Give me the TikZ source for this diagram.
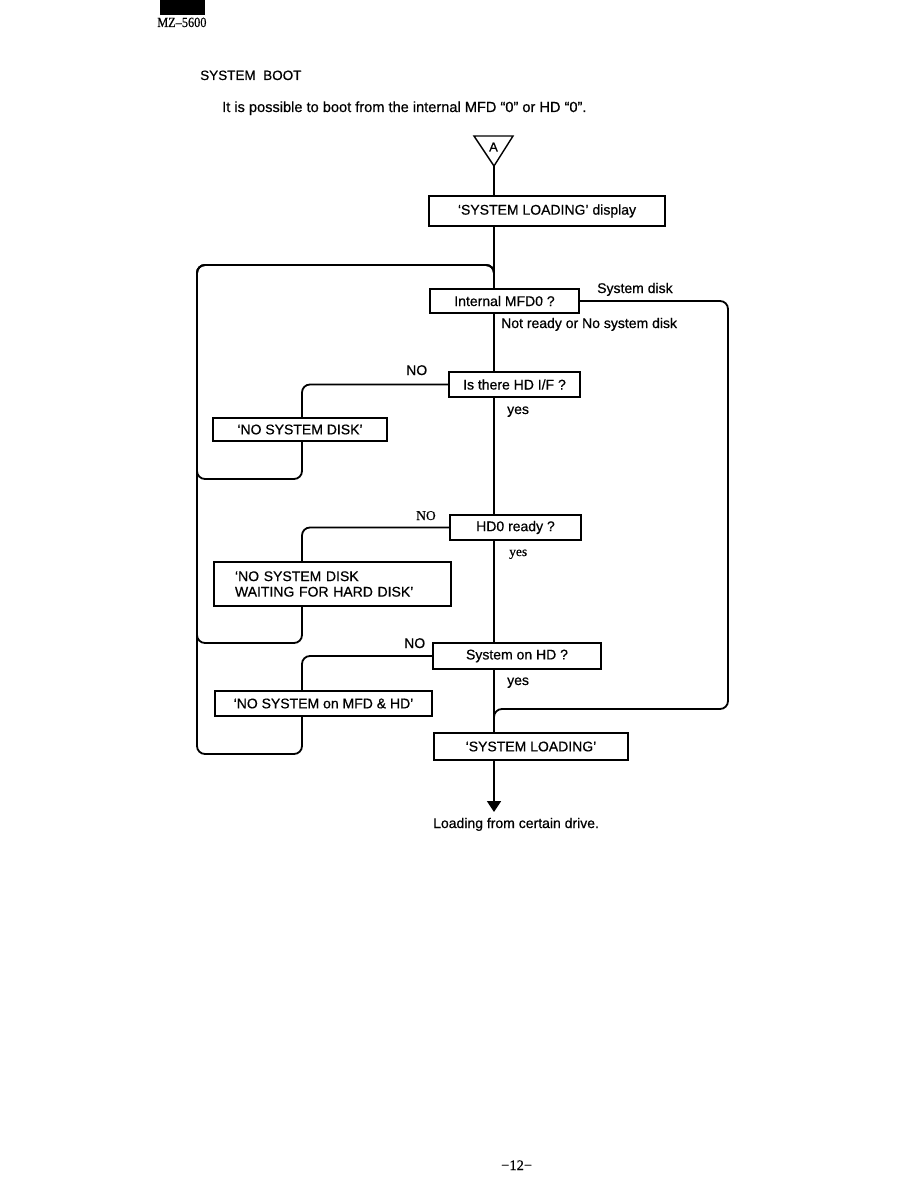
\documentclass[tikz,border=0pt]{standalone}
\usepackage{fontspec}
\setmainfont{Liberation Sans}[FakeBold=0.6]
\newfontfamily\tnr{Liberation Serif}[FakeBold=0.5]
\usetikzlibrary{arrows.meta}
\begin{document}
\begin{tikzpicture}[x=1pt,y=-1pt,
  txt/.style={font=\fontsize{14}{15.5}\selectfont},
  box/.style={txt, draw, line width=1.4pt, inner sep=0pt, outer sep=0pt, anchor=north west},
  lbl/.style={txt, inner sep=0pt, anchor=base west},
  slbl/.style={inner sep=0pt, anchor=base west, font=\tnr\fontsize{13.5}{15}\selectfont},
  flow/.style={line width=1.8pt, rounded corners=8pt},
]
\useasboundingbox (0,0) rectangle (918,1188);
% header
\node[fill=black, inner sep=0pt, minimum width=45pt, minimum height=15pt, anchor=north west] (hdr) at (160,0) {};
\node[inner sep=0pt, anchor=base west, font=\tnr\fontsize{14}{15}\selectfont] (model) at (157,27) {\scalebox{0.88}[1]{MZ–5600}};
\node[lbl, font=\fontsize{13.5}{15}\selectfont] (title) at (200,80) {SYSTEM\ \ BOOT};
\node[lbl, font=\fontsize{14.6}{16}\selectfont] (intro) at (222,112) {It is possible to boot from the internal MFD ``0'' or HD ``0''.};
% start triangle
\draw[line width=1.4pt] (474,136) -- (513,136) -- (494,166) -- cycle;
\node[inner sep=0pt, font=\fontsize{13}{14}\selectfont] (A) at (493.5,147) {A};
\coordinate (apex) at (494,166);
% boxes
\node[box, minimum width=236pt, minimum height=30pt] (b1) at (429,196) {`SYSTEM LOADING' display};
\node[box, minimum width=149pt, minimum height=24pt] (mfd) at (430,289) {Internal MFD0 ?\hspace{6pt}};
\node[box, minimum width=131pt, minimum height=25pt] (hdif) at (449,372) {Is there HD I/F ?};
\node[box, minimum width=174pt, minimum height=23pt] (nsd) at (213,418) {`NO SYSTEM DISK'};
\node[box, minimum width=131pt, minimum height=25pt] (hd0) at (450,515) {HD0 ready ?\hspace{18pt}};
\node[box, inner xsep=21pt, text width=195pt, align=left, minimum height=44pt] (wait) at (214,562) {`NO SYSTEM DISK\\WAITING FOR HARD DISK'};
\node[box, minimum width=168pt, minimum height=26pt] (sonhd) at (433,643) {System on HD ?};
\node[box, minimum width=217pt, minimum height=25pt] (nsmh) at (215,691) {`NO SYSTEM on MFD \& HD'\hspace{8pt}};
\node[box, minimum width=194pt, minimum height=27pt] (sl) at (434,733) {`SYSTEM LOADING'};
% labels
\node[lbl] (sysdisk) at (597,293) {System disk};
\node[lbl] (notready) at (501,328) {Not ready or No system disk};
\node[lbl] (no1) at (406,375) {NO};
\node[lbl] (yes1) at (507,414) {yes};
\node[slbl] (no2) at (416,520) {NO};
\node[slbl] (yes2) at (509,556) {yes};
\node[lbl] (no3) at (404,648) {NO};
\node[lbl] (yes3) at (507,685) {yes};
\node[lbl] (final) at (433,828) {Loading from certain drive.};
\node[inner sep=0pt, anchor=base west, font=\tnr\fontsize{14.5}{16}\selectfont] (page) at (501,1170) {−12−};
% helper coordinates
\coordinate (bx) at (302,0);
\coordinate (lx) at (197,0);
\coordinate (top) at (0,265);
\coordinate (rb) at (728,709);
\coordinate (tip) at (494,812);
% main line
\draw[flow] (apex) -- (b1.north -| apex);
\draw[flow] (b1.south -| apex) -- (mfd.north -| apex);
\draw[flow] (mfd.south -| apex) -- (hdif.north -| apex);
\draw[flow] (hdif.south -| apex) -- (hd0.north -| apex);
\draw[flow] (hd0.south -| apex) -- (sonhd.north -| apex);
\draw[flow] (sonhd.south -| apex) -- (sl.north -| apex);
% NO branches
\draw[flow] (hdif.west) -| (nsd.north -| bx);
\draw[flow] (hd0.west) -| (wait.north -| bx);
\draw[flow] (sonhd.west) -| (nsmh.north -| bx);
% return loops
\draw[flow] (nsd.south -| bx) -- ++(0,38) -| (lx |- top) -| (mfd.north -| apex);
\draw[flow] (wait.south -| bx) -- ++(0,37) -| (lx |- top) -| (mfd.north -| apex);
\draw[flow] (nsmh.south -| bx) -- ++(0,38) -| (lx |- top) -| (mfd.north -| apex);
% system disk path
\draw[flow] (mfd.east) -| (rb) -| (sl.north -| apex);
% final arrow
\draw[line width=1.8pt, -{Triangle[width=14pt,length=11pt]}] (sl.south -| apex) -- (tip);
\end{tikzpicture}
\end{document}
